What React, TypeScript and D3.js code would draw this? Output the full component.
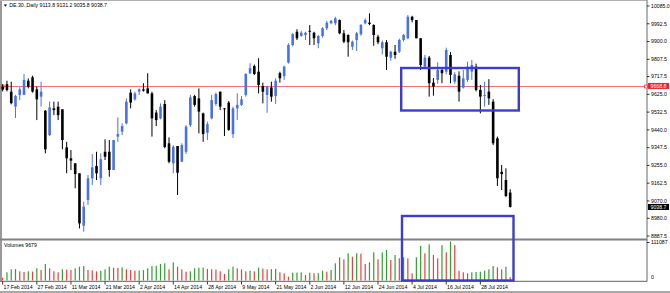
import React from "react";
import * as d3 from "d3";

const opens = [9665,9678,9639,9561,9622,9622,9696,9714,9651,9613,9540,9413,9552,9561,9547,9349,9292,9266,9214,8941,9075,9188,9252,9188,9326,9326,9231,9405,9431,9474,9634,9599,9639,9651,9656,9630,9530,9500,9575,9370,9266,9356,9274,9326,9465,9616,9604,9526,9425,9500,9575,9639,9552,9582,9418,9552,9570,9622,9735,9772,9743,9668,9622,9661,9616,9735,9720,9790,9882,9951,9929,9934,9956,9946,9891,9929,9969,9995,9995,10012,9943,9934,9873,9908,9938,9995,9998,9986,9925,9865,9896,9816,9847,9847,9908,9917,10029,10012,9917,9769,9816,9686,9700,9752,9743,9830,9691,9722,9660,9700,9743,9769,9648,9617,9639,9587,9396,9222,9179,9113.8];
const highs = [9678,9696,9691,9622,9662,9731,9708,9722,9665,9691,9543,9587,9587,9587,9547,9378,9335,9266,9214,9066,9205,9314,9326,9318,9391,9387,9387,9505,9474,9604,9651,9639,9656,9683,9735,9639,9543,9578,9595,9401,9361,9356,9370,9465,9622,9622,9656,9530,9483,9622,9635,9639,9554,9590,9561,9630,9616,9735,9787,9780,9813,9686,9670,9691,9708,9743,9775,9891,9945,9964,9956,9951,9986,9951,9934,9975,10008,10012,10029,10015,9960,9938,9905,9950,9991,10020,10047,9990,9935,9905,9908,9852,9882,9915,9940,10038,10034,10012,9917,9830,9825,9710,9792,9765,9868,9845,9740,9745,9752,9795,9804,9785,9674,9691,9704,9600,9405,9257,9240,9131.2];
const lows = [9640,9640,9573,9502,9595,9622,9656,9634,9491,9561,9318,9408,9517,9491,9339,9214,9231,9136,8927,8910,9049,9153,9179,9153,9283,9196,9231,9378,9413,9469,9552,9592,9622,9639,9630,9405,9460,9495,9344,9266,9214,9101,9274,9315,9455,9561,9422,9378,9387,9495,9565,9543,9408,9435,9398,9491,9565,9613,9730,9726,9630,9578,9529,9587,9575,9686,9700,9785,9875,9908,9925,9908,9882,9882,9865,9920,9960,9990,9985,9938,9891,9821,9856,9851,9930,9990,9985,9878,9886,9833,9752,9800,9810,9840,9900,9912,10000,9917,9752,9760,9613,9618,9680,9683,9730,9683,9680,9587,9655,9690,9700,9640,9526,9561,9570,9361,9148,9127,9090,9035.8];
const closes = [9650,9648,9579,9616,9651,9700,9665,9639,9599,9639,9339,9557,9543,9517,9387,9292,9280,9210,8953,9040,9188,9245,9214,9287,9300,9231,9387,9418,9460,9587,9582,9630,9651,9644,9630,9500,9491,9561,9351,9274,9352,9217,9361,9457,9609,9570,9535,9418,9470,9595,9627,9561,9548,9440,9552,9570,9599,9731,9761,9731,9674,9639,9665,9613,9696,9709,9769,9882,9939,9917,9946,9946,9951,9917,9929,9969,9998,10008,10021,9943,9899,9896,9899,9943,9986,10012,9991,9934,9896,9896,9821,9847,9830,9908,9934,10029,10012,9917,9778,9816,9683,9665,9752,9735,9856,9726,9729,9639,9708,9769,9778,9648,9613,9622,9604,9370,9188,9210,9096,9038.7];
const volumes = [8000,23400,31900,32500,26200,24200,26200,25500,34700,29900,47000,34700,26200,23400,31900,31000,29900,34700,39300,41300,29900,29000,26200,27900,31900,39300,36500,36000,37600,31900,29900,27900,28500,29500,34700,41300,42000,47000,49000,31900,51800,39300,31900,25100,26000,34700,36500,37000,33000,31900,31000,26200,18500,31900,39300,34700,31900,26200,27900,26200,36500,33600,31900,32500,33000,23400,20500,10800,22200,22500,23000,15700,22200,20500,21000,27900,25100,29900,49000,66000,60400,77500,67800,77500,76500,47000,51800,80300,60400,80000,86900,58400,72600,63200,66000,63000,20500,66000,98300,77500,103000,72600,63200,101000,80300,111087,101000,27900,23400,20500,23400,24200,25000,27900,31900,41300,37600,31900,39300,9679];

const dateTicks = ["17 Feb 2014","27 Feb 2014","11 Mar 2014","21 Mar 2014","2 Apr 2014","14 Apr 2014","28 Apr 2014","9 May 2014","21 May 2014","2 Jun 2014","12 Jun 2014","24 Jun 2014","4 Jul 2014","16 Jul 2014","28 Jul 2014"];
const tickEvery = 8;
const priceTicks = ["10085.0","9992.5","9900.0","9807.5","9717.5","9625.0","9532.5","9440.0","9347.5","9255.0","9162.5","9070.0","8980.0","8887.5"];
const hLinePrice = 9668.8;
const lastClose = 9038.7;
const volMax = 111087;
const headerText = "DE.30.,Daily  9113.8 9131.2 9035.8 9038.7";
const volumeTitle = "Volumes 9679";

const W = 670, H = 293;
const FONT = "'Liberation Sans', Arial, sans-serif";

export default function App() {
  const n = closes.length;
  const x = d3.scaleLinear().domain([0, n - 1]).range([2.7, 510.2]);
  const y = d3.scaleLinear().domain([8887.5, 10085]).range([236, 6]);
  const yv = d3.scaleLinear().domain([0, volMax]).range([280.5, 241.5]);
  const axisX = 647;
  const bull = "#4a72e8";
  const bear = "#000000";
  const grey = "#808080";
  const fs = 5.2;
  const bodyW = 2.6;
  const rectColor = "#3c3cd2";
  const hy = y(hLinePrice);
  const hyc = Math.round(hy) + 0.5;
  const ly = y(lastClose);

  return (
    <svg width={W} height={H} style={{ position: "absolute", left: 0, top: 0, background: "#fff" }} fontFamily={FONT}>
      <rect x={0} y={0} width={W} height={H} fill="#ffffff" />
      {/* frame */}
      <line x1={1} y1={0} x2={1} y2={281.5} stroke="#9a9a9a" strokeWidth={2} />
      <line x1={0} y1={0.5} x2={axisX} y2={0.5} stroke="#b0b0b0" strokeWidth={1} />
      <line x1={axisX} y1={0} x2={axisX} y2={281.5} stroke={grey} strokeWidth={1.2} />
      <line x1={0} y1={239.5} x2={axisX} y2={239.5} stroke={grey} strokeWidth={2} />
      <line x1={0} y1={281.3} x2={axisX} y2={281.3} stroke={grey} strokeWidth={1.2} />
      <rect x={0} y={291} width={W} height={2} fill="#a8a8a8" />

      {/* header */}
      <path d="M3.8,4.6 L7,4.6 L5.4,6.8 Z" fill="#000" />
      <text x={9.3} y={7.4} fontSize={fs} fill="#000">{headerText}</text>

      {/* horizontal line */}
      <line x1={2} y1={hyc} x2={axisX - 1} y2={hyc} stroke="#f06464" strokeWidth={0.9} />
      <rect x={1.3} y={hyc - 1.4} width={2.8} height={2.8} fill="none" stroke="#f03a3a" strokeWidth={0.9} />
      <rect x={644.6} y={hyc - 1.4} width={2.8} height={2.8} fill="#fff" stroke="#f03a3a" strokeWidth={0.9} />

      {/* candles */}
      {closes.map((c, i) => {
        const o = opens[i];
        const up = c >= o;
        const col = up ? bull : bear;
        const cx = x(i);
        const top = y(Math.max(o, c));
        const bot = y(Math.min(o, c));
        return (
          <g key={"c" + i}>
            <line x1={cx} x2={cx} y1={y(highs[i])} y2={y(lows[i])} stroke={col} strokeWidth={1} />
            <rect x={cx - bodyW / 2} y={top} width={bodyW} height={Math.max(bot - top, 0.9)} fill={col} />
          </g>
        );
      })}

      {/* volumes */}
      <text x={4} y={247} fontSize={fs} fill="#000">{volumeTitle}</text>
      {volumes.map((v, i) => {
        const prev = i > 0 ? volumes[i - 1] : v + 1;
        const col = v > prev ? "#30a030" : "#f03c3c";
        return (
          <rect key={"v" + i} x={x(i) - 0.6} y={yv(v)} width={1.2} height={yv(0) - yv(v)} fill={col} />
        );
      })}

      {/* blue rectangles */}
      <rect x={401.2} y={68} width={117.6} height={42.5} fill="none" stroke={rectColor} strokeWidth={2.4} />
      <rect x={402} y={216} width={111.5} height={64.5} fill="none" stroke={rectColor} strokeWidth={2.4} />

      {/* price axis */}
      {priceTicks.map((t) => {
        const py = y(+t);
        return (
          <g key={"p" + t}>
            <line x1={axisX} x2={axisX + 2.5} y1={py} y2={py} stroke="#000" strokeWidth={0.8} />
            <text x={651} y={py + 1.8} fontSize={fs} fill="#000">{t}</text>
          </g>
        );
      })}
      <rect x={648} y={hy - 3} width={21} height={6} fill="#f0202a" />
      <text x={650.5} y={hy + 1.8} fontSize={fs} fill="#fff">{hLinePrice.toFixed(1)}</text>
      <rect x={648} y={ly - 3} width={21} height={6} fill="#000" />
      <text x={650.5} y={ly + 1.8} fontSize={fs} fill="#fff">{lastClose.toFixed(1)}</text>

      {/* volume axis */}
      <text x={651} y={244.2} fontSize={fs} fill="#000">{volMax}</text>
      <line x1={axisX} x2={axisX + 2.5} y1={242.5} y2={242.5} stroke="#000" strokeWidth={0.8} />
      <text x={651} y={279.4} fontSize={fs} fill="#000">0</text>

      {/* date axis */}
      {dateTicks.map((d, k) => {
        const tx = x(k * tickEvery);
        return (
          <g key={"d" + k}>
            <line x1={tx} x2={tx} y1={281.5} y2={284.5} stroke="#000" strokeWidth={0.8} />
            <text x={tx + 0.8} y={288.8} fontSize={fs} fill="#000">{d}</text>
          </g>
        );
      })}
    </svg>
  );
}
